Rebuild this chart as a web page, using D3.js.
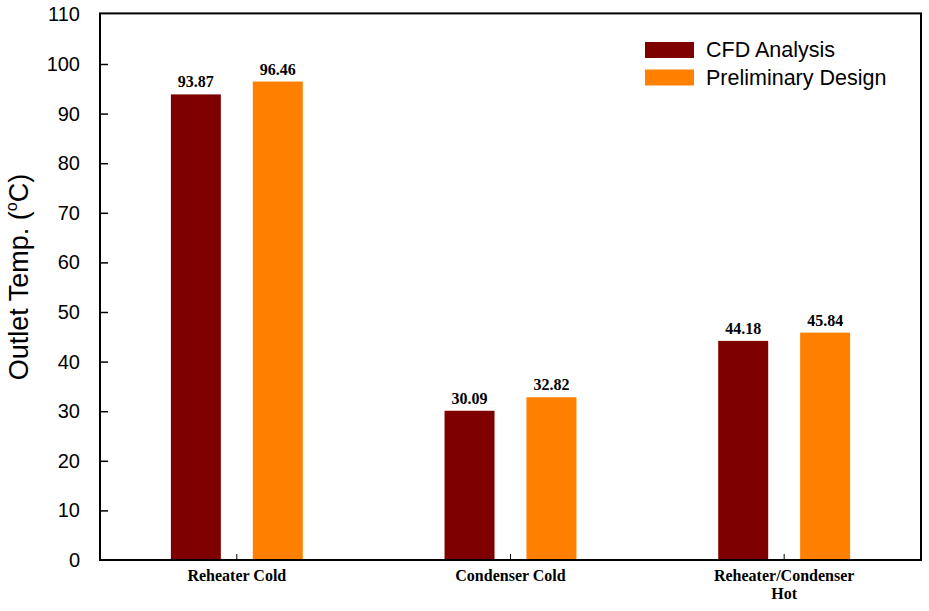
<!DOCTYPE html>
<html><head><meta charset="utf-8">
<script src="https://cdn.jsdelivr.net/npm/d3@7/dist/d3.min.js"></script>
<style>body{margin:0;background:#fff}svg{display:block}</style>
</head><body>
<script>
const categories = [["Reheater Cold"], ["Condenser Cold"], ["Reheater/Condenser", "Hot"]];
const catKeys = ["Reheater Cold", "Condenser Cold", "Reheater/Condenser Hot"];
const seriesNames = ["CFD Analysis", "Preliminary Design"];
const cfdValues = [93.87, 30.09, 44.18];
const prelimValues = [96.46, 32.82, 45.84];
const yTicks = [0,10,20,30,40,50,60,70,80,90,100,110];
const colors = ["#7f0000", "#ff8000"];

(function(){
const W = 929, H = 611;
const pL = 100, pR = 921, pT = 14.4, pB = 560;
const svg = d3.select("body").append("svg").attr("width", W).attr("height", H);

const y = d3.scaleLinear().domain([0, 110]).range([pB, pT]);
const x0 = d3.scaleBand().domain(catKeys).range([pL, pR]).paddingInner(0.518).paddingOuter(0.259);
const x1 = d3.scaleBand().domain(seriesNames).range([0, x0.bandwidth()]).paddingInner(0.39);

const seriesVals = [cfdValues, prelimValues];
const g = svg.append("g");
seriesNames.forEach((s, si) => {
  g.selectAll(".b" + si).data(catKeys).enter().append("rect")
    .attr("x", d => x0(d) + x1(s))
    .attr("y", (d, i) => y(seriesVals[si][i]))
    .attr("width", x1.bandwidth())
    .attr("height", (d, i) => y(0) - y(seriesVals[si][i]))
    .attr("fill", colors[si]);
  g.selectAll(".l" + si).data(catKeys).enter().append("text")
    .attr("x", d => x0(d) + x1(s) + x1.bandwidth() / 2)
    .attr("y", (d, i) => y(seriesVals[si][i]) - 7)
    .attr("text-anchor", "middle")
    .attr("font-family", "Liberation Serif, Times New Roman, serif")
    .attr("font-weight", "bold").attr("font-size", 16)
    .text((d, i) => seriesVals[si][i].toFixed(2));
});

// frame
svg.append("rect").attr("x", pL).attr("y", pT - 1).attr("width", pR - pL).attr("height", pB - pT + 1)
  .attr("fill", "none").attr("stroke", "#000").attr("stroke-width", 2);

// y axis
const yAxis = d3.axisLeft(y).tickValues(yTicks).tickSizeInner(-8).tickSizeOuter(0).tickPadding(20);
const ya = svg.append("g").attr("transform", `translate(${pL},0)`).call(yAxis);
ya.select(".domain").remove();
ya.selectAll(".tick line").attr("stroke", "#000").attr("stroke-width", 1.5);
ya.selectAll(".tick text").attr("font-family", "Liberation Sans, Arial, sans-serif").attr("font-size", 20).attr("fill", "#000");
ya.selectAll(".tick").filter(d => d === 0 || d === 110).select("line").remove();

// x axis ticks (between bars, inward)
const xa = svg.append("g").attr("transform", `translate(0,${pB})`);
xa.selectAll("line").data(catKeys).enter().append("line")
  .attr("x1", d => x0(d) + x0.bandwidth() / 2).attr("x2", d => x0(d) + x0.bandwidth() / 2)
  .attr("y1", 0).attr("y2", -6).attr("stroke", "#000").attr("stroke-width", 1);
xa.selectAll("text").data(categories).enter().append("text")
  .attr("x", (d, i) => x0(catKeys[i]) + x0.bandwidth() / 2)
  .attr("y", 21)
  .attr("text-anchor", "middle")
  .attr("font-family", "Liberation Serif, Times New Roman, serif")
  .attr("font-weight", "bold").attr("font-size", 16)
  .each(function(d) {
    const t = d3.select(this);
    t.selectAll("tspan").data(d).enter().append("tspan")
      .attr("x", t.attr("x"))
      .attr("dy", (s, j) => j === 0 ? 0 : 18)
      .text(s => s);
  });

// y label
const yl = svg.append("text")
  .attr("transform", `translate(28,277) rotate(-90)`)
  .attr("text-anchor", "middle")
  .attr("font-family", "Liberation Sans, Arial, sans-serif").attr("font-size", 27);
yl.append("tspan").text("Outlet Temp. (");
yl.append("tspan").attr("font-size", 16).attr("dy", -11).text("o");
yl.append("tspan").attr("dy", 11).text("C)");

// legend
const lg = svg.append("g").attr("transform", "translate(645,42)");
seriesNames.forEach((s, i) => {
  lg.append("rect").attr("x", 0).attr("y", i * 27.5).attr("width", 49).attr("height", 16).attr("fill", colors[i]);
  lg.append("text").attr("x", 61).attr("y", i * 27.5 + 15).attr("font-family", "Liberation Sans, Arial, sans-serif")
    .attr("font-size", 21.5).attr("fill", "#000").text(s);
});
})();
</script>
</body></html>
